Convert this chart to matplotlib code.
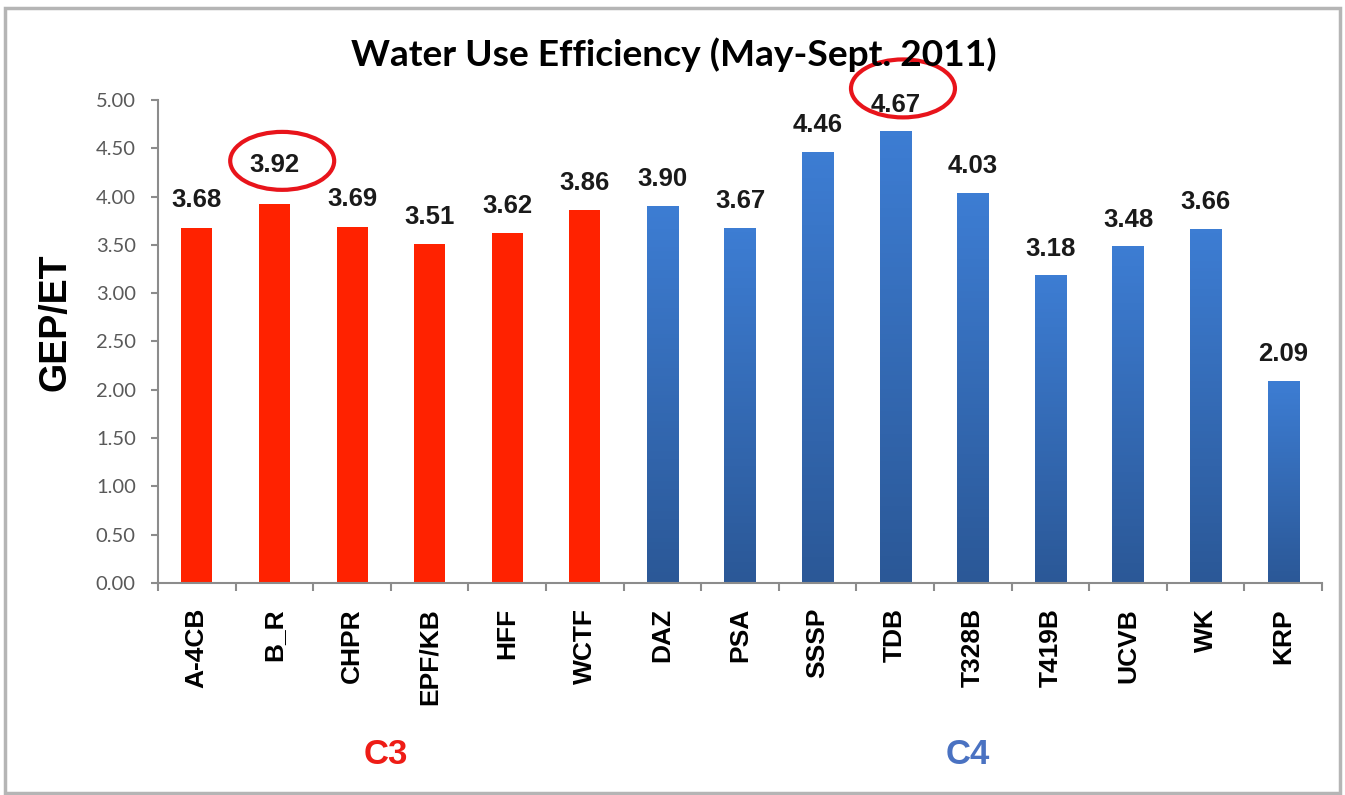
import numpy as np
import matplotlib.pyplot as plt
from matplotlib.patches import Ellipse, Rectangle
from matplotlib.colors import LinearSegmentedColormap

# site names and GEP/ET values
sites = ['A-4CB', 'B_R', 'CHPR', 'EPF/KB', 'HFF', 'WCTF',
         'DAZ', 'PSA', 'SSSP', 'TDB', 'T328B', 'T419B', 'UCVB', 'WK', 'KRP']
wue = [3.68, 3.92, 3.69, 3.51, 3.62, 3.86,
       3.90, 3.67, 4.46, 4.67, 4.03, 3.18, 3.48, 3.66, 2.09]
groups = ['C3'] * 6 + ['C4'] * 9
circled = ['B_R', 'TDB']

red = '#ff2200'
blue_cmap = LinearSegmentedColormap.from_list('bl', ['#2b5897', '#3d7dd3'])

fig = plt.figure(figsize=(13.45, 7.95), dpi=100)
ax = fig.add_axes([0.1175, 0.2667, 0.8654, 0.6075])

x = np.arange(len(sites))
bars = ax.bar(x, wue, width=0.4, color=[red if g == 'C3' else 'none' for g in groups],
              edgecolor='none', zorder=2)

# gradient fill for the C4 bars
grad = np.linspace(0, 1, 100).reshape(-1, 1)
for b, g in zip(bars, groups):
    if g == 'C4':
        x0 = b.get_x()
        ax.imshow(grad, extent=[x0, x0 + b.get_width(), 0, b.get_height()],
                  origin='lower', cmap=blue_cmap, aspect='auto', zorder=2)

# value labels (the B_R one sits a little higher in the original)
for xi, v, name in zip(x, wue, sites):
    off = 20 if name == 'B_R' else 11
    ax.annotate('%.2f' % v, (xi, v), xytext=(0, off), textcoords='offset points',
                ha='center', va='bottom', fontsize=18.5, fontweight='bold',
                family='Liberation Sans', color='#1a1a1a')

# red circles round two of the labels
for name in circled:
    i = sites.index(name)
    e = Ellipse((i + 0.1, wue[i] + 0.45), 1.34, 0.6, fill=False, edgecolor='#e8141b',
                lw=3, clip_on=False, zorder=5)
    ax.add_patch(e)

ax.set_xlim(-0.5, len(sites) - 0.5)
ax.set_ylim(0, 5)
ax.set_yticks(np.arange(0, 5.01, 0.5))
ax.set_yticklabels(['%.2f' % t for t in np.arange(0, 5.01, 0.5)], family='Lato',
                   fontsize=14.5, color='#595959')
ax.set_xticks(x)
ax.set_xticklabels(sites, rotation=90, fontsize=19, fontweight='bold',
                   family='Liberation Sans', va='top')
ax.set_xticks(np.arange(-0.5, len(sites), 1), minor=True)
ax.tick_params(axis='x', which='major', length=0, pad=18)
ax.tick_params(axis='x', which='minor', length=6, color='#8c8c8c', width=1.5)
ax.tick_params(axis='y', length=5, color='#8c8c8c', width=1.5, pad=11)

for s in ['top', 'right']:
    ax.spines[s].set_visible(False)
for s in ['left', 'bottom']:
    ax.spines[s].set_color('#8c8c8c')
    ax.spines[s].set_linewidth(1.5)

ax.set_ylabel('GEP/ET', fontsize=27, fontweight='bold', family='Liberation Sans')
ax.yaxis.set_label_coords(-0.073, 0.54)

fig.text(0.501, 0.931, 'Water Use Efficiency (May-Sept. 2011)', ha='center', va='center',
         fontsize=26.7, fontweight='bold', family='Lato')
fig.text(386 / 1345, 1 - 755 / 795, 'C3', ha='center', va='center', fontsize=25,
         fontweight='bold', family='Liberation Sans', color='#ee1c16')
fig.text(968 / 1345, 1 - 755 / 795, 'C4', ha='center', va='center', fontsize=25,
         fontweight='bold', family='Liberation Sans', color='#4a72c2')

# thin gray frame round the whole picture
fig.patches.append(Rectangle((0.004, 0.003), 0.992, 0.987, transform=fig.transFigure,
                             fill=False, edgecolor='#b5b5b5', lw=2.5))

fig.savefig('out.png', dpi=100)
